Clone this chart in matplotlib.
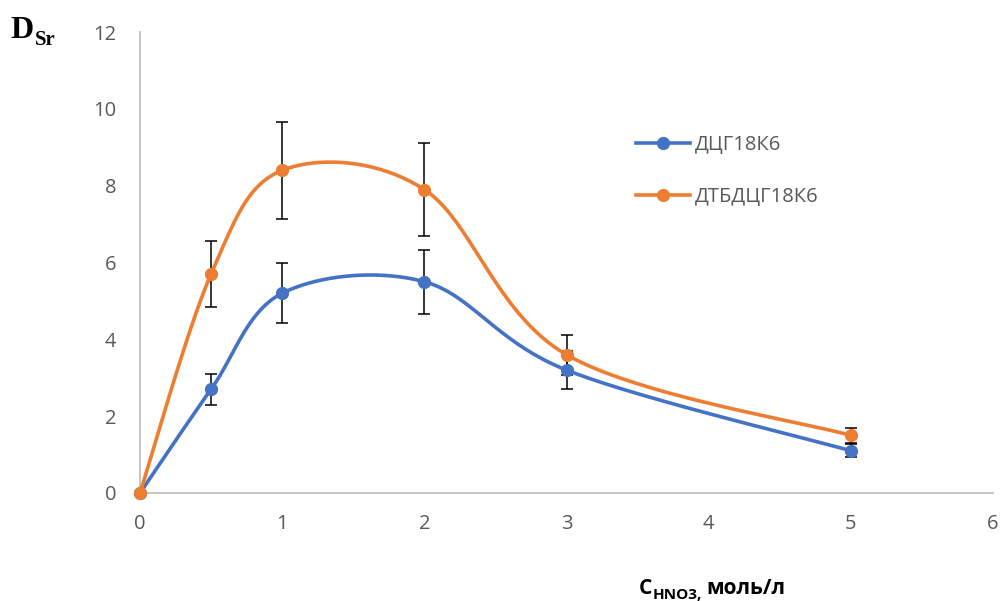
import numpy as np
import matplotlib.pyplot as plt

# concentration of HNO3, mol/l
x = [0, 0.5, 1, 2, 3, 5]

# distribution coefficients of Sr
d_dcg = [0, 2.7, 5.2, 5.5, 3.2, 1.1]
err_dcg = [0, 0.4, 0.78, 0.83, 0.5, 0.17]
d_dtbdcg = [0, 5.7, 8.4, 7.9, 3.6, 1.5]
err_dtbdcg = [0, 0.86, 1.26, 1.2, 0.52, 0.2]

labels = ['ДЦГ18К6', 'ДТБДЦГ18К6']
colors = ['#4472C4', '#ED7D31']


# smooth curve like excel's "smoothed line" (bezier through the points)
def smooth(xs, ys, n=40):
	p = np.column_stack([xs, ys]).astype(float)
	out = []
	for i in range(len(p) - 1):
		p0 = p[i - 1] if i > 0 else p[i]
		p1 = p[i]
		p2 = p[i + 1]
		p3 = p[i + 2] if i + 2 < len(p) else p[i + 1]
		c1 = p1 + (p2 - p0) / 6
		c2 = p2 - (p3 - p1) / 6
		t = np.linspace(0, 1, n, endpoint=(i == len(p) - 2))[:, None]
		seg = (1 - t)**3 * p1 + 3 * (1 - t)**2 * t * c1 + 3 * (1 - t) * t**2 * c2 + t**3 * p2
		out.append(seg)
	out = np.vstack(out)
	idx = [i * n for i in range(len(p) - 1)] + [len(out) - 1]
	return out[:, 0], out[:, 1], idx


fig = plt.figure(figsize=(10.02, 6.01), dpi=100)
ax = fig.add_axes([140/1002, 108/601, 853/1002, 461/601])

for ys, es, lab, col in zip([d_dcg, d_dtbdcg], [err_dcg, err_dtbdcg], labels, colors):
	ax.errorbar(x[1:], ys[1:], yerr=es[1:], fmt='none', ecolor='black',
				elinewidth=1.1, capsize=4, capthick=1.1, zorder=2)
	sx, sy, idx = smooth(x, ys)
	ax.plot(sx, sy, color=col, lw=2.6, marker='o', markersize=8.5,
			markevery=idx, label=lab, zorder=3, clip_on=False)

ax.set_xlim(0, 6)
ax.set_ylim(0, 12)
ax.set_xticks(range(0, 7))
ax.set_yticks(range(0, 13, 2))
for s in ['top', 'right']:
	ax.spines[s].set_visible(False)
for s in ['left', 'bottom']:
	ax.spines[s].set_color('#BFBFBF')
	ax.spines[s].set_linewidth(1.3)
ax.tick_params(length=0, labelsize=14.5, labelcolor='#595959')
ax.tick_params(axis='y', pad=17)
ax.tick_params(axis='x', pad=15)
for t in ax.get_xticklabels() + ax.get_yticklabels():
	t.set_family('Open Sans')

leg = ax.legend(loc='upper left', bbox_to_anchor=(0.5815, 0.776), frameon=False,
				prop={'family': 'Open Sans', 'size': 14.5}, labelspacing=1.6,
				handlelength=2.7, handletextpad=0.2, labelcolor='#595959',
				borderpad=0, borderaxespad=0)

# axis titles
fig.text(10/1002, 1 - 38/601, 'D', family='Liberation Serif', weight='bold', fontsize=23)
fig.text(35/1002, 1 - 45/601, 'Sr', family='Liberation Serif', weight='bold', fontsize=15)
fig.text(639/1002, 1 - 594/601, 'C', family='Open Sans', weight='bold', fontsize=15)
fig.text(653/1002, 1 - 599/601, 'HNO3,', family='Open Sans', weight='bold', fontsize=11)
fig.text(706/1002, 1 - 594/601, 'моль/л', family='Open Sans', weight='bold', fontsize=15)

fig.savefig('out.png', dpi=100)
